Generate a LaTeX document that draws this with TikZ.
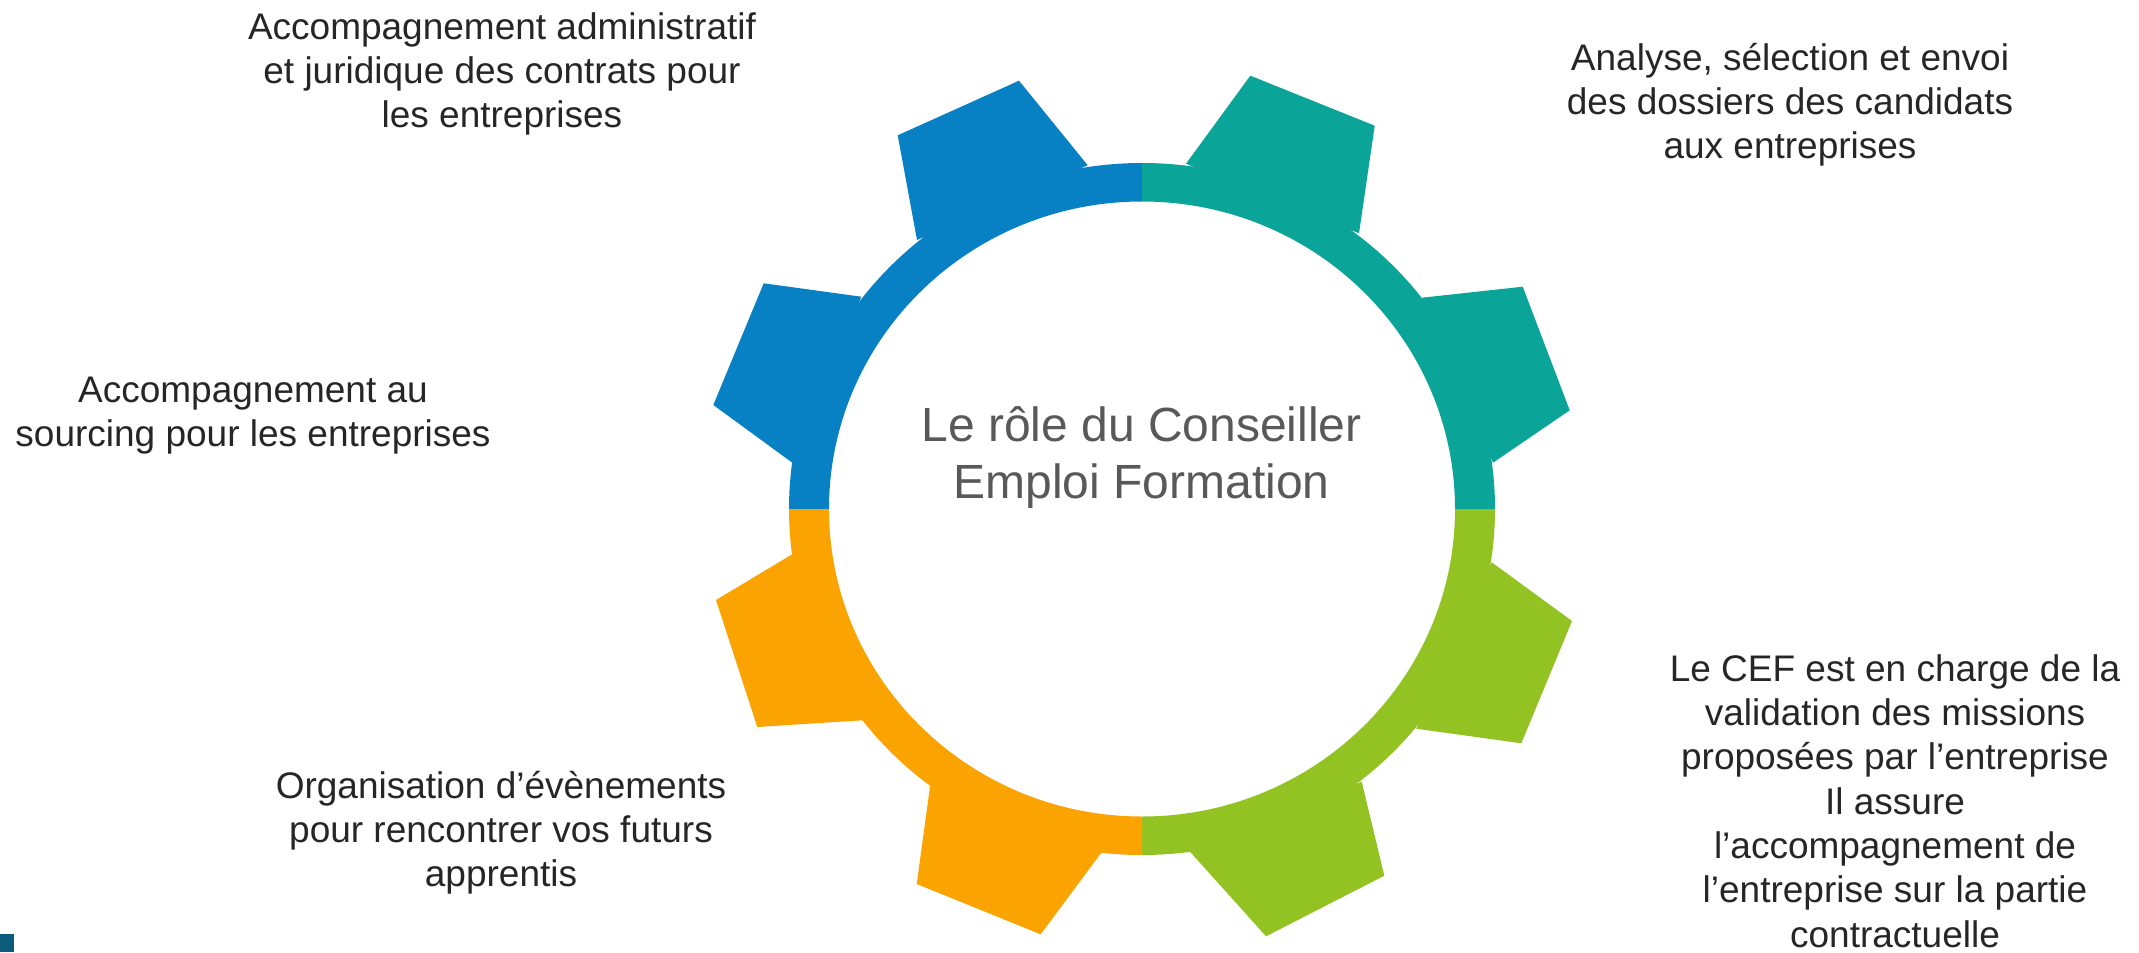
\documentclass[tikz,border=0pt]{standalone}
\usepackage{fontspec}
\setmainfont{Liberation Sans}
\definecolor{gblue}{HTML}{0880C4}
\definecolor{gteal}{HTML}{0AA499}
\definecolor{gorange}{HTML}{FBA300}
\definecolor{ggreen}{HTML}{92C323}
\definecolor{txtdark}{HTML}{262626}
\definecolor{txtgray}{HTML}{595959}
\definecolor{logoblue}{HTML}{0D5B7A}
\begin{document}
\begin{tikzpicture}[x=0.5pt,y=-0.5pt,
  lbl/.style={text=txtdark, align=center, inner sep=0pt, anchor=base,
    font=\fontsize{18.5}{22}\selectfont},
  lblr/.style={lbl, font=\fontsize{18.5}{22.15}\selectfont},
  title/.style={text=txtgray, align=center, inner sep=0pt, anchor=base,
    font=\fontsize{24}{28.5}\selectfont}]
\useasboundingbox[fill=white] (0,0) rectangle (2139,952);

% ring sectors
\fill[gblue] (789,509) arc[start angle=180,end angle=270,x radius=353,y radius=346]
  -- (1142,201.5) arc[start angle=270,end angle=180,x radius=313,y radius=307.5] -- cycle;
\fill[gteal] (1142,163) arc[start angle=270,end angle=360,x radius=353,y radius=346]
  -- (1455,509) arc[start angle=0,end angle=-90,x radius=313,y radius=307.5] -- cycle;
\fill[ggreen] (1495,509) arc[start angle=0,end angle=90,x radius=353,y radius=346]
  -- (1142,816.5) arc[start angle=90,end angle=0,x radius=313,y radius=307.5] -- cycle;
\fill[gorange] (1142,855) arc[start angle=90,end angle=180,x radius=353,y radius=346]
  -- (829,509) arc[start angle=180,end angle=90,x radius=313,y radius=307.5] -- cycle;

% teeth
\fill[gblue] (1087.7,165.3) -- (1019,80.7) -- (897.7,135.3) -- (917,240) -- cycle;
\fill[gblue] (861.3,296.7) -- (763.7,283.3) -- (713.3,405) -- (792.3,462.7) -- cycle;
\fill[gteal] (1186,163.7) -- (1250.3,75.7) -- (1374.7,125.7) -- (1359,233.3) -- cycle;
\fill[gteal] (1422,297.7) -- (1522.7,286.7) -- (1569.7,410.3) -- (1493,462.7) -- cycle;
\fill[gorange] (796,552) -- (716,600) -- (757.3,727) -- (866.7,720) -- cycle;
\fill[gorange] (930.7,781.7) -- (916.7,884) -- (1040.7,934.3) -- (1102,851.7) -- cycle;
\fill[ggreen] (1190,851.7) -- (1266,936.3) -- (1384.3,875.7) -- (1361.7,781.7) -- cycle;
\fill[ggreen] (1416.3,728.7) -- (1521.3,743.3) -- (1572,621) -- (1491.7,562.3) -- cycle;

% logo fragment
\fill[logoblue] (0,934) rectangle (14,952);

% texts (base anchor = baseline of the last line)
\node[title] (titre) at (1141.5,498) {Le rôle du Conseiller\\Emploi Formation};
\node[lbl] (admin) at (502,127.5) {Accompagnement administratif\\et juridique des contrats pour\\les entreprises};
\node[lbl] (analyse) at (1790,159) {Analyse, sélection et envoi\\des dossiers des candidats\\aux entreprises};
\node[lbl] (sourcing) at (253,446) {Accompagnement au\\sourcing pour les entreprises};
\node[lbl] (events) at (501,886) {Organisation d’évènements\\pour rencontrer vos futurs\\apprentis};
\node[lblr] (cef) at (1895,947) {Le CEF est en charge de la\\validation des missions\\proposées par l’entreprise\\Il assure\\l’accompagnement de\\l’entreprise sur la partie\\contractuelle};
\end{tikzpicture}
\end{document}
